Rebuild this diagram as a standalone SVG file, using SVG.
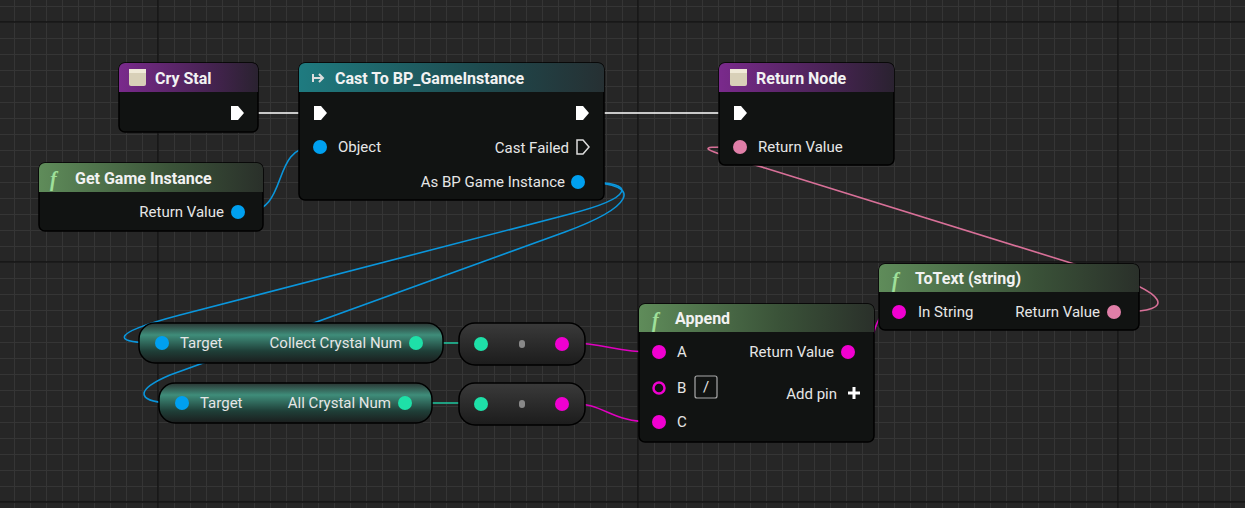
<svg xmlns="http://www.w3.org/2000/svg" width="1245" height="508" viewBox="0 0 1245 508">
<defs>
<pattern id="minor" width="16" height="16" patternUnits="userSpaceOnUse" x="14" y="6"><path d="M0 0.5H16M0.5 0V16" stroke="#353535" stroke-width="1" fill="none"/></pattern>
<linearGradient id="gPurple" x1="0" y1="0" x2="1" y2="0"><stop offset="0" stop-color="#7a2a8c"/><stop offset="0.6" stop-color="#4a2356"/><stop offset="1" stop-color="#2a2230"/></linearGradient>
<linearGradient id="gTeal" x1="0" y1="0" x2="1" y2="0"><stop offset="0" stop-color="#1f7b80"/><stop offset="0.6" stop-color="#1e4a4e"/><stop offset="1" stop-color="#263033"/></linearGradient>
<linearGradient id="gGreen" x1="0" y1="0" x2="1" y2="0"><stop offset="0" stop-color="#5f8c5a"/><stop offset="0.6" stop-color="#3a5238"/><stop offset="1" stop-color="#2a302a"/></linearGradient>
<linearGradient id="gVar" x1="0" y1="0" x2="0" y2="1"><stop offset="0" stop-color="#2b3533"/><stop offset="0.3" stop-color="#3f8d7a"/><stop offset="0.7" stop-color="#1f3f38"/><stop offset="1" stop-color="#1b1d1d"/></linearGradient>
<linearGradient id="gPill" x1="0" y1="0" x2="0" y2="1"><stop offset="0" stop-color="#3a3a3a"/><stop offset="1" stop-color="#1c1c1c"/></linearGradient>
</defs>
<style>
.body{fill:#111312;stroke:#000;stroke-width:1.5}
.hd{font-family:Roboto,"Liberation Sans",sans-serif;font-weight:bold;font-size:16px;fill:#f2f2f2}
.lb{font-family:Roboto,"Liberation Sans",sans-serif;font-size:15px;fill:#e6e6e6}
.exec{fill:#fff}
.blue{fill:#00a0f0}
.teal{fill:#1ee0a8}
.mag{fill:#f000d0}
.pink{fill:#e07fa8}
.w{fill:none;stroke-width:1.6}
</style>
<rect width="1245" height="508" fill="#262626"/>
<rect width="1245" height="508" fill="url(#minor)"/>
<g stroke="#141414" stroke-width="1.5"><path d="M158 0V508M638 0V508M1118 0V508M0 22H1245M0 262H1245M0 502H1245"/></g>

<g id="connectors">
<path class="w" stroke="#fff" stroke-width="3" d="M244 113H313M589 113H733"/>
<path class="w" stroke="#0a96dc" d="M245 212C290 212 270 147 313 147"/>
<path class="w" stroke="#0a96dc" d="M585 182C640 182 632 198 570 214L180 315C100 336 120 343 155 343"/>
<path class="w" stroke="#0a96dc" d="M585 182C648 184 630 208 565 232L170 375C130 392 140 403 175 403"/>
<path class="w" stroke="#1ec8a0" d="M423 343H474M412 403H474"/>
<path class="w" stroke="#e000c0" d="M569 343C605 343 615 352 652 352M569 403C605 403 610 422 652 422"/>
<path class="w" stroke="#e000c0" d="M855 352C880 352 868 312 892 312"/>
<path class="w" stroke="#d87098" d="M1121 312C1180 312 1165 292 1100 272L765 168C690 146 700 147 733 147"/>
</g>

<g id="crystal">
<rect class="body" x="119" y="63" width="139" height="69" rx="6"/>
<path d="M119 69a6 6 0 0 1 6-6H252a6 6 0 0 1 6 6V92H119Z" fill="url(#gPurple)"/>
<rect x="129" y="69" width="17" height="17" rx="2" fill="#d8d0b8"/><rect x="129" y="69" width="17" height="4" fill="#f0ead8"/>
<text class="hd" x="155" y="84">Cry Stal</text>
<path class="exec" d="M231 106h7l6 7l-6 7h-7z"/>
</g>

<g id="cast">
<rect class="body" x="299" y="63" width="305" height="137" rx="6"/>
<path d="M299 69a6 6 0 0 1 6-6H598a6 6 0 0 1 6 6V92H299Z" fill="url(#gTeal)"/>
<path d="M313 78h10M319 74l4 4l-4 4M313 74v8" stroke="#ddd" stroke-width="2" fill="none"/>
<text class="hd" x="335" y="84">Cast To BP_GameInstance</text>
<path class="exec" d="M314 106h7l6 7l-6 7h-7z"/>
<path class="exec" d="M576 106h7l6 7l-6 7h-7z"/>
<circle class="blue" cx="320" cy="147" r="7"/>
<text class="lb" x="338" y="152">Object</text>
<text class="lb" x="569" y="153" text-anchor="end">Cast Failed</text>
<path d="M577 140h6l6 7l-6 7h-6z" fill="none" stroke="#ddd" stroke-width="1.5"/>
<text class="lb" x="565" y="187" text-anchor="end">As BP Game Instance</text>
<circle class="blue" cx="578" cy="182" r="7"/>
</g>

<g id="return">
<rect class="body" x="719" y="63" width="175" height="102" rx="6"/>
<path d="M719 69a6 6 0 0 1 6-6H888a6 6 0 0 1 6 6V92H719Z" fill="url(#gPurple)"/>
<rect x="730" y="69" width="17" height="17" rx="2" fill="#d8d0b8"/><rect x="730" y="69" width="17" height="4" fill="#f0ead8"/>
<text class="hd" x="756" y="84">Return Node</text>
<path class="exec" d="M734 106h7l6 7l-6 7h-7z"/>
<circle class="pink" cx="740" cy="147" r="7"/>
<text class="lb" x="758" y="152">Return Value</text>
</g>

<g id="getgi">
<rect class="body" x="39" y="163" width="224" height="68" rx="6"/>
<path d="M39 169a6 6 0 0 1 6-6H257a6 6 0 0 1 6 6V192H39Z" fill="url(#gGreen)"/>
<text x="50" y="186" font-family="Liberation Serif,serif" font-style="italic" font-weight="bold" font-size="20" fill="#9fe09a">f</text>
<text class="hd" x="75" y="184">Get Game Instance</text>
<text class="lb" x="224" y="217" text-anchor="end">Return Value</text>
<circle class="blue" cx="238" cy="212" r="7"/>
</g>

<g id="collect">
<rect x="139" y="323" width="304" height="40" rx="16" fill="url(#gVar)" stroke="#000" stroke-width="1.5"/>
<circle class="blue" cx="162" cy="343" r="7"/>
<text class="lb" x="180" y="348">Target</text>
<text class="lb" x="402" y="348" text-anchor="end">Collect Crystal Num</text>
<circle class="teal" cx="416" cy="343" r="7"/>
</g>

<g id="allcrystal">
<rect x="159" y="383" width="273" height="40" rx="16" fill="url(#gVar)" stroke="#000" stroke-width="1.5"/>
<circle class="blue" cx="182" cy="403" r="7"/>
<text class="lb" x="200" y="408">Target</text>
<text class="lb" x="391" y="408" text-anchor="end">All Crystal Num</text>
<circle class="teal" cx="405" cy="403" r="7"/>
</g>

<g id="conv1">
<rect x="459" y="323" width="126" height="42" rx="16" fill="url(#gPill)" stroke="#000" stroke-width="1.5"/>
<circle class="teal" cx="481" cy="344" r="7"/>
<rect x="519" y="340" width="6" height="8" rx="3" fill="#888"/>
<circle class="mag" cx="562" cy="344" r="7"/>
</g>

<g id="conv2">
<rect x="459" y="383" width="126" height="42" rx="16" fill="url(#gPill)" stroke="#000" stroke-width="1.5"/>
<circle class="teal" cx="481" cy="404" r="7"/>
<rect x="519" y="400" width="6" height="8" rx="3" fill="#888"/>
<circle class="mag" cx="562" cy="404" r="7"/>
</g>

<g id="append">
<rect class="body" x="639" y="304" width="235" height="138" rx="6"/>
<path d="M639 310a6 6 0 0 1 6-6H868a6 6 0 0 1 6 6V332H639Z" fill="url(#gGreen)"/>
<text x="652" y="327" font-family="Liberation Serif,serif" font-style="italic" font-weight="bold" font-size="20" fill="#9fe09a">f</text>
<text class="hd" x="675" y="324">Append</text>
<circle class="mag" cx="659" cy="352" r="7"/>
<text class="lb" x="677" y="357">A</text>
<text class="lb" x="834" y="357" text-anchor="end">Return Value</text>
<circle class="mag" cx="848" cy="352" r="7"/>
<circle cx="659" cy="388" r="5.5" fill="none" stroke="#f000d0" stroke-width="2.5"/>
<text class="lb" x="677" y="393">B</text>
<rect x="695" y="376" width="22" height="22" rx="2" fill="none" stroke="#aaa" stroke-width="1.2"/>
<text class="lb" x="706" y="392" text-anchor="middle" font-size="13">/</text>
<text class="lb" x="837" y="399" text-anchor="end">Add pin</text>
<path d="M848 393h12M854 387v12" stroke="#fff" stroke-width="3"/>
<circle class="mag" cx="659" cy="422" r="7"/>
<text class="lb" x="677" y="427">C</text>
</g>

<g id="totext">
<rect class="body" x="879" y="264" width="260" height="66" rx="6"/>
<path d="M879 270a6 6 0 0 1 6-6H1133a6 6 0 0 1 6 6V292H879Z" fill="url(#gGreen)"/>
<text x="892" y="287" font-family="Liberation Serif,serif" font-style="italic" font-weight="bold" font-size="20" fill="#9fe09a">f</text>
<text class="hd" x="915" y="284">ToText (string)</text>
<circle class="mag" cx="899" cy="312" r="7"/>
<text class="lb" x="918" y="317">In String</text>
<text class="lb" x="1100" y="317" text-anchor="end">Return Value</text>
<circle class="pink" cx="1114" cy="312" r="7"/>
</g>
</svg>
